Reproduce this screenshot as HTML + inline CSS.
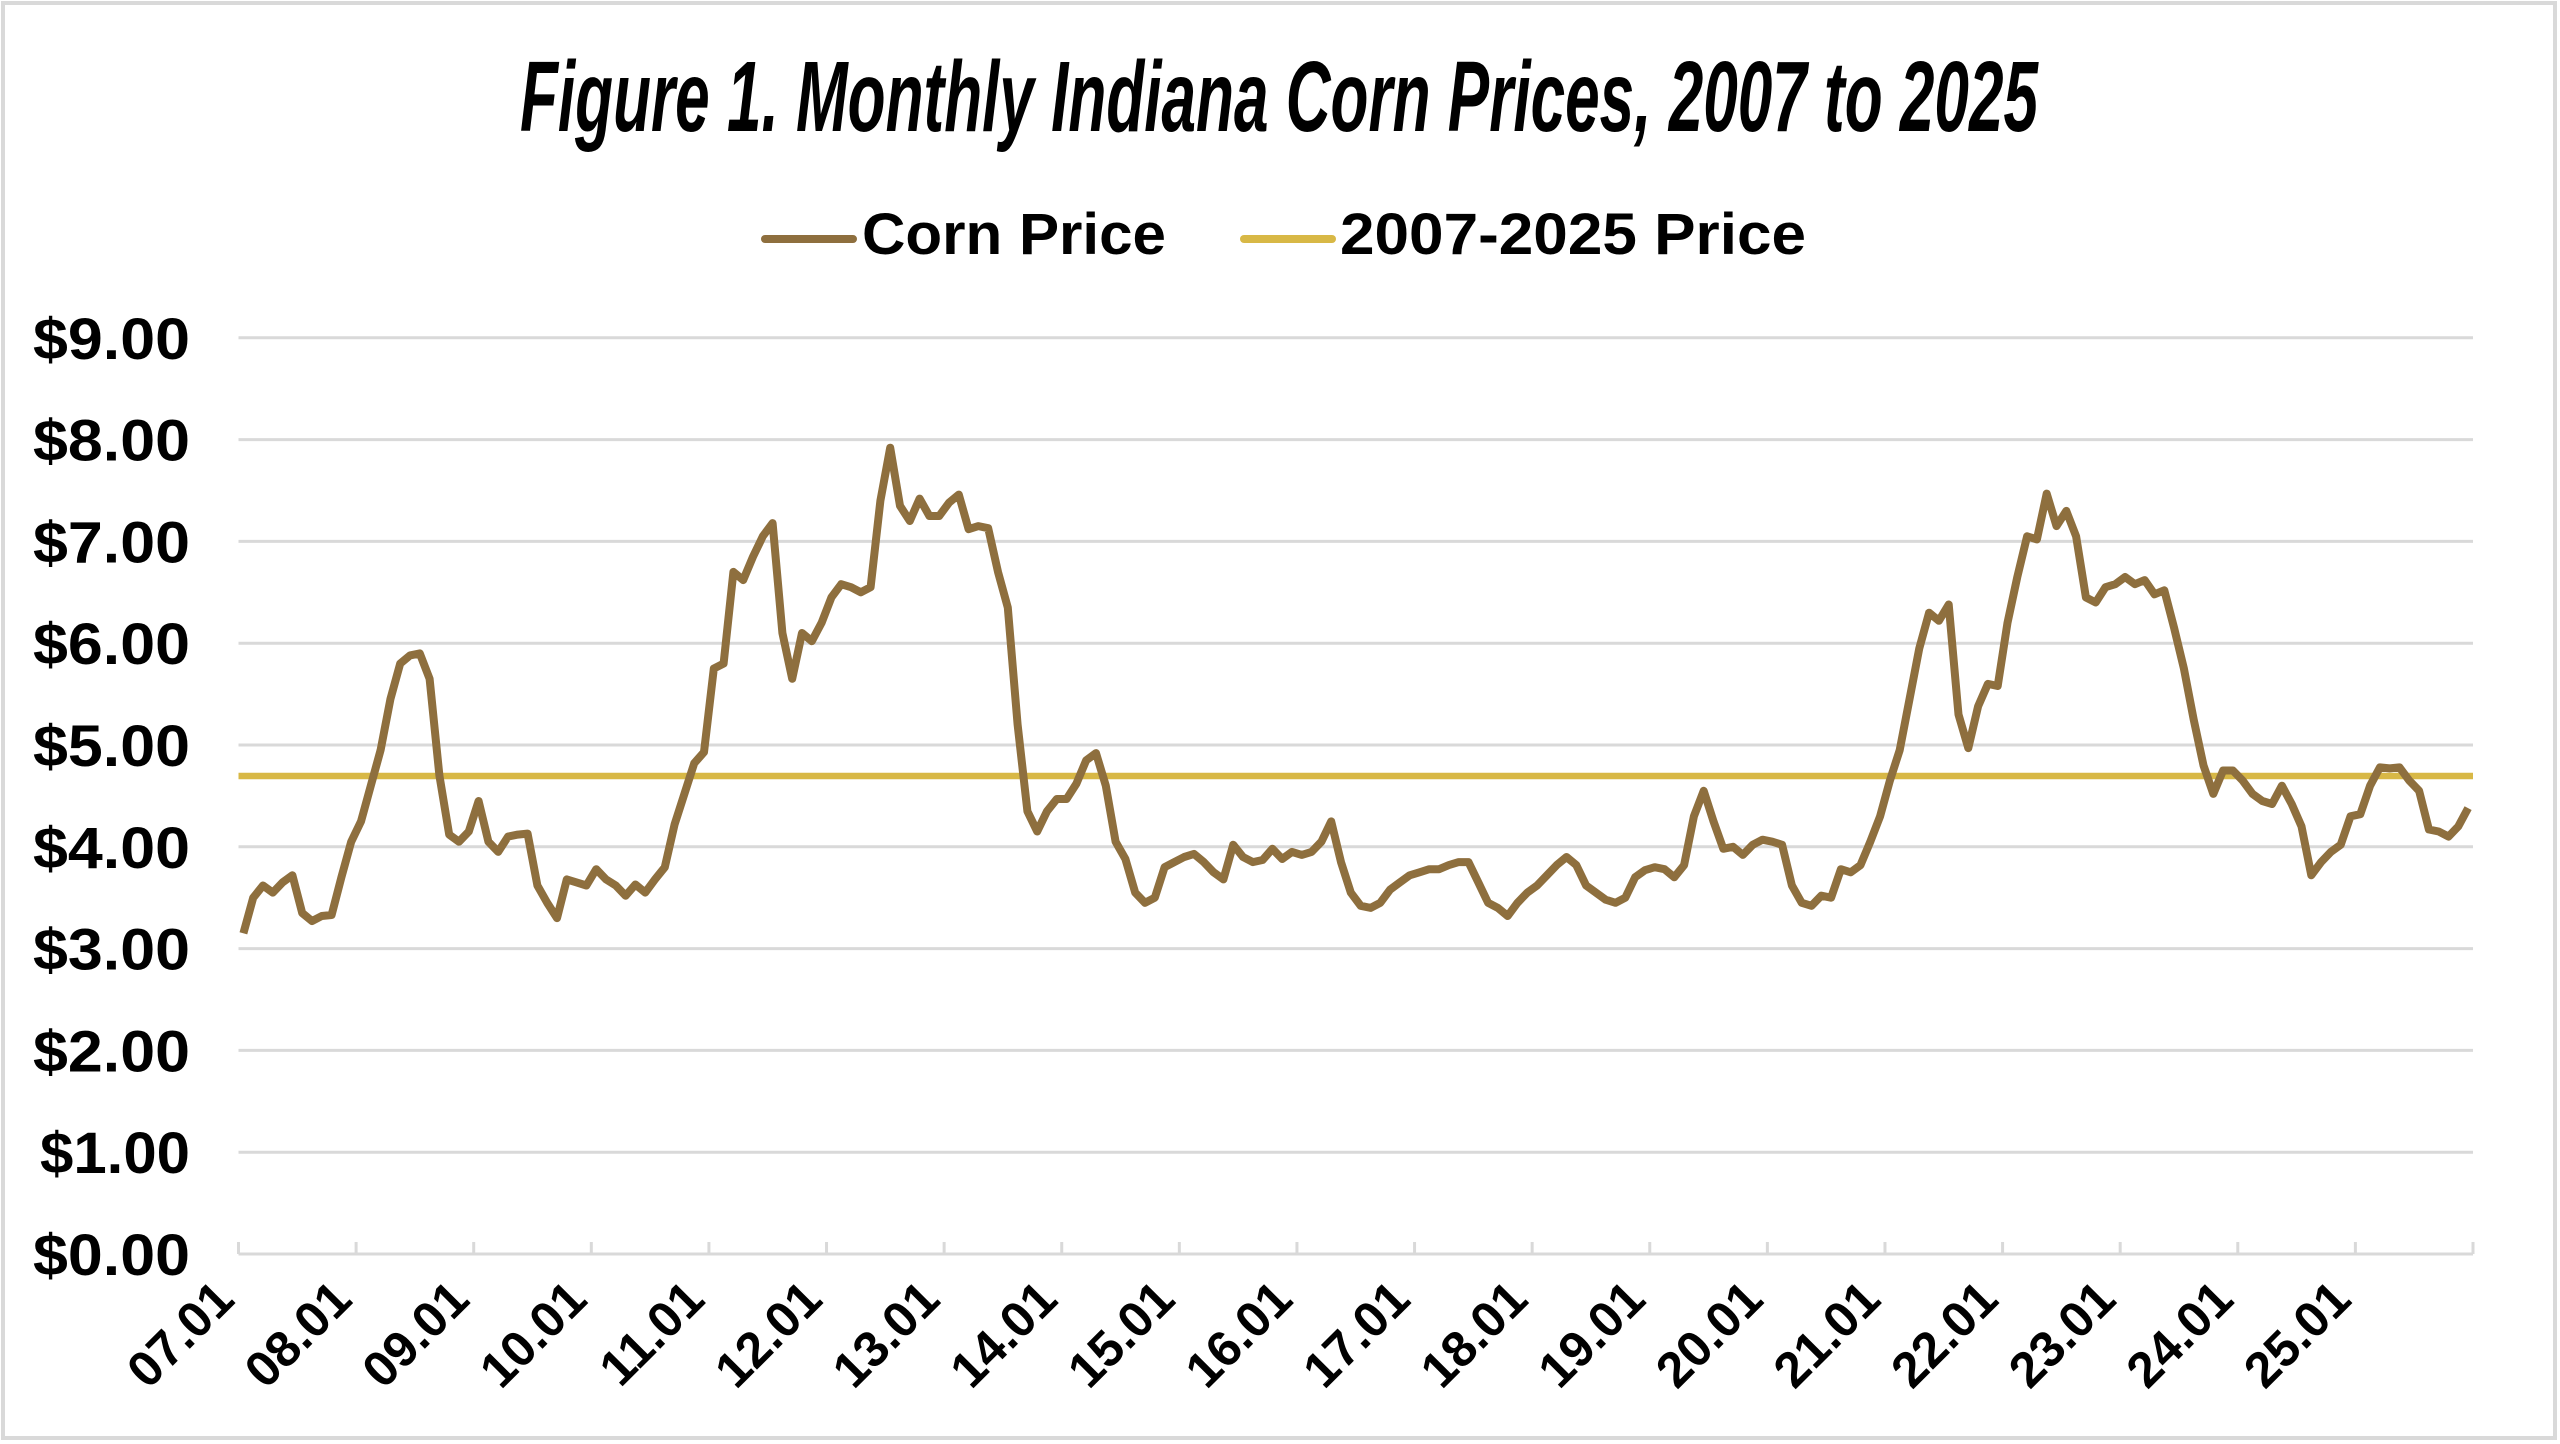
<!DOCTYPE html>
<html><head><meta charset="utf-8"><style>
html,body{margin:0;padding:0;background:#fff;}
svg{display:block;}
</style></head><body>
<svg id="s" width="2560" height="1444" xmlns="http://www.w3.org/2000/svg" font-family="'Liberation Sans', sans-serif">
<rect x="3" y="3" width="2552" height="1435" fill="#fff" stroke="#d9d9d9" stroke-width="4"/>
<text x="520" y="131" font-size="100" font-weight="bold" font-style="italic" textLength="1518" lengthAdjust="spacingAndGlyphs" fill="#000">Figure 1.  Monthly Indiana Corn Prices, 2007 to 2025</text>
<line x1="765" y1="239" x2="853" y2="239" stroke="#8e6f3e" stroke-width="8" stroke-linecap="round"/>
<text x="862" y="254" font-size="58" font-weight="bold" textLength="304" lengthAdjust="spacingAndGlyphs">Corn Price</text>
<line x1="1244" y1="239" x2="1332" y2="239" stroke="#d8b846" stroke-width="8" stroke-linecap="round"/>
<text x="1340" y="254" font-size="58" font-weight="bold" textLength="466" lengthAdjust="spacingAndGlyphs">2007-2025 Price</text>
<g id="grid"></g>
<g id="ylab" font-size="58" font-weight="bold" text-anchor="end"></g>
<g id="xlab" font-size="50" font-weight="bold" text-anchor="end"></g>
<line x1="238.5" y1="776" x2="2473" y2="776" stroke="#d8b846" stroke-width="6.5"/>
<polyline id="corn" fill="none" stroke="#8e6f3e" stroke-width="8" stroke-linejoin="round"/>
</svg>
<script>
var d=[3.15,3.5,3.62,3.55,3.65,3.72,3.35,3.27,3.32,3.33,3.7,4.05,
4.25,4.6,4.95,5.45,5.8,5.88,5.9,5.65,4.7,4.12,4.05,4.15,
4.45,4.05,3.95,4.1,4.12,4.13,3.62,3.45,3.3,3.68,3.65,3.62,
3.78,3.68,3.62,3.52,3.63,3.55,3.68,3.8,4.22,4.52,4.82,4.93,
5.75,5.8,6.7,6.62,6.85,7.05,7.18,6.1,5.65,6.1,6.02,6.2,
6.45,6.58,6.55,6.5,6.55,7.4,7.92,7.35,7.2,7.42,7.25,7.25,
7.38,7.46,7.12,7.15,7.13,6.7,6.35,5.2,4.35,4.15,4.35,4.47,
4.47,4.62,4.85,4.92,4.6,4.05,3.88,3.55,3.45,3.5,3.8,3.85,
3.9,3.93,3.85,3.75,3.68,4.02,3.9,3.85,3.87,3.98,3.88,3.95,
3.92,3.95,4.05,4.25,3.85,3.55,3.42,3.4,3.45,3.58,3.65,3.72,
3.75,3.78,3.78,3.82,3.85,3.85,3.65,3.45,3.4,3.32,3.45,3.55,
3.62,3.72,3.82,3.9,3.82,3.62,3.55,3.48,3.45,3.5,3.7,3.77,
3.8,3.78,3.7,3.82,4.3,4.55,4.25,3.98,4.0,3.92,4.02,4.07,
4.05,4.02,3.62,3.45,3.42,3.52,3.5,3.78,3.75,3.82,4.05,4.3,
4.65,4.95,5.45,5.95,6.3,6.22,6.38,5.3,4.97,5.38,5.6,5.58,
6.2,6.65,7.05,7.02,7.47,7.15,7.3,7.05,6.45,6.4,6.55,6.58,
6.65,6.58,6.62,6.48,6.52,6.15,5.75,5.25,4.8,4.52,4.75,4.75,
4.65,4.52,4.45,4.42,4.6,4.42,4.2,3.72,3.85,3.95,4.02,4.3,
4.32,4.6,4.78,4.77,4.78,4.65,4.55,4.17,4.15,4.1,4.2,4.38];
var x0=238.5,x1=2473,n=228,m=(x1-x0)/n,y0=1254,py=101.8;
var p=d.map(function(v,i){return (x0+m*(i+0.5)).toFixed(1)+','+(y0-v*py).toFixed(1)}).join(' ');
document.getElementById('corn').setAttribute('points',p);
var ns='http://www.w3.org/2000/svg',g=document.getElementById('grid'),yl=document.getElementById('ylab'),xl=document.getElementById('xlab');
function el(t,a,par,txt){var e=document.createElementNS(ns,t);for(var k in a)e.setAttribute(k,a[k]);if(txt)e.textContent=txt;par.appendChild(e);return e;}
for(var i=0;i<=9;i++){var y=y0-i*py;
 el('line',{x1:x0,x2:x1,y1:y,y2:y,stroke:'#d9d9d9','stroke-width':3},g);
 el('text',{x:190,y:y+21,textLength:(i==1?150:157),lengthAdjust:'spacingAndGlyphs'},yl,'$'+i+'.00');}
for(var j=0;j<=19;j++){var x=x0+j*12*m;el('line',{x1:x,x2:x,y1:y0,y2:y0-12,stroke:'#d9d9d9','stroke-width':3},g);}
for(var j=0;j<19;j++){var x=x0+j*12*m;var lab=(j+7<10?'0':'')+(j+7)+'.01';
 el('text',{x:0,y:0,transform:'translate('+(x-2)+',1302) rotate(-45)'},xl,lab);}
</script>
</body></html>
